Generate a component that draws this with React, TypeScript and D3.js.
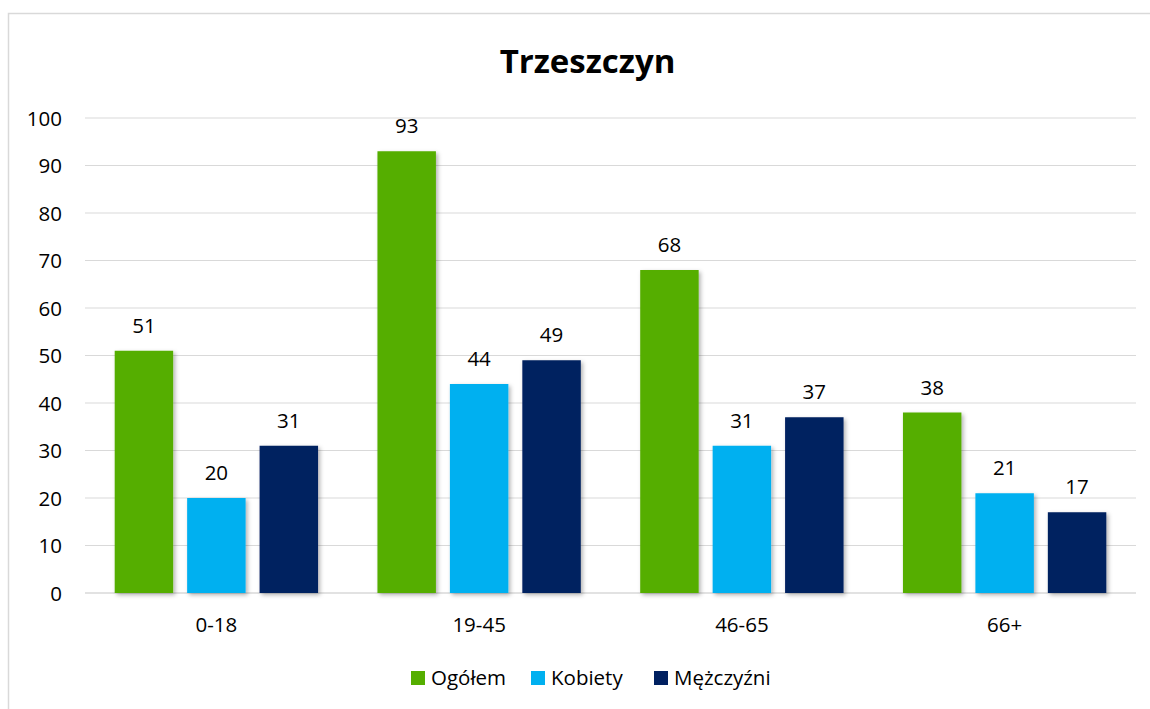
import React from "react";
import * as d3 from "d3";

const categories = ["0-18", "19-45", "46-65", "66+"];
const seriesNames = ["Ogółem", "Kobiety", "Mężczyźni"];
const ogolem = [51, 93, 68, 38];
const kobiety = [20, 44, 31, 21];
const mezczyzni = [31, 49, 37, 17];
const seriesColors = ["#55AE00", "#00B0F0", "#002060"];
const yTicks = [0, 10, 20, 30, 40, 50, 60, 70, 80, 90, 100];
const title = "Trzeszczyn";

const FONT = "'Open Sans', 'Noto Sans', sans-serif";

export default function App() {
  const W = 1150;
  const H = 709;
  const plotLeft = 85;
  const plotRight = 1136;
  const plotTop = 118;
  const plotBottom = 593;

  const seriesValues = [ogolem, kobiety, mezczyzni];

  const x0 = d3.scaleBand<string>().domain(categories).range([plotLeft, plotRight]).paddingInner(0).paddingOuter(0);
  const x1 = d3
    .scaleBand<string>()
    .domain(seriesNames)
    .range([0, x0.bandwidth()])
    .paddingInner(0.193)
    .paddingOuter(0.41);
  const y = d3.scaleLinear().domain([0, 100]).range([plotBottom, plotTop]);

  const legendItems = [
    { name: seriesNames[0], sq: 411, tx: 431 },
    { name: seriesNames[1], sq: 531, tx: 551 },
    { name: seriesNames[2], sq: 654, tx: 674 },
  ];

  return (
    <div style={{ position: "absolute", left: 0, top: 0 }}>
      <svg width={W} height={H} style={{ display: "block", background: "#fff" }}>
        <defs>
          <filter id="shadow" x="-20%" y="-20%" width="140%" height="140%">
            <feDropShadow dx="2" dy="2" stdDeviation="2" floodColor="#000" floodOpacity="0.3" />
          </filter>
        </defs>
        <rect x={8.5} y={13.5} width={1160} height={720} fill="#fff" stroke="#D9D9D9" strokeWidth={1.5} />
        <text
          x={587.5}
          y={73}
          textAnchor="middle"
          fontFamily={FONT}
          fontWeight="bold"
          fontSize={33}
          fill="#000"
        >
          {title}
        </text>
        {yTicks.map((t) => (
          <g key={t}>
            <line
              x1={plotLeft}
              x2={plotRight}
              y1={y(t)}
              y2={y(t)}
              stroke="#D9D9D9"
              strokeWidth={t === 0 ? 1.5 : 1.2}
            />
            <text
              x={62}
              y={y(t) + 7.5}
              textAnchor="end"
              fontFamily={FONT}
              fontSize={20.5}
              fill="#000"
            >
              {t}
            </text>
          </g>
        ))}
        {categories.map((c, ci) => (
          <g key={c}>
            {seriesNames.map((s, si) => {
              const v = seriesValues[si][ci];
              const bx = (x0(c) as number) + (x1(s) as number);
              return (
                <g key={s}>
                  <rect
                    x={bx}
                    y={y(v)}
                    width={x1.bandwidth()}
                    height={y(0) - y(v)}
                    fill={seriesColors[si]}
                    filter="url(#shadow)"
                  />
                  <text
                    x={bx + x1.bandwidth() / 2}
                    y={y(v) - 18}
                    textAnchor="middle"
                    fontFamily={FONT}
                    fontSize={20.5}
                    fill="#000"
                  >
                    {v}
                  </text>
                </g>
              );
            })}
            <text
              x={(x0(c) as number) + x0.bandwidth() / 2}
              y={632}
              textAnchor="middle"
              fontFamily={FONT}
              fontSize={20.5}
              fill="#000"
            >
              {c}
            </text>
          </g>
        ))}
        {legendItems.map((l, i) => (
          <g key={l.name}>
            <rect x={l.sq} y={671} width={14} height={14} fill={seriesColors[i]} />
            <text x={l.tx} y={685} fontFamily={FONT} fontSize={20.5} fill="#000">
              {l.name}
            </text>
          </g>
        ))}
      </svg>
    </div>
  );
}
